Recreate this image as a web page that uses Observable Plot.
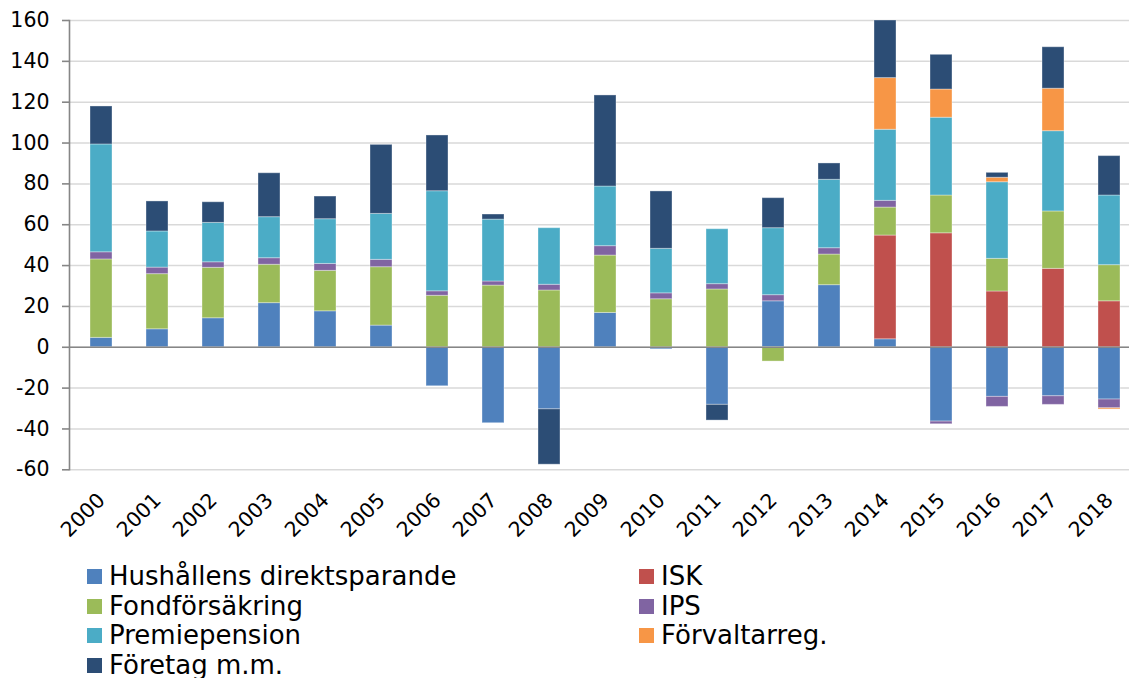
<!DOCTYPE html>
<html>
<head>
<meta charset="utf-8">
<script src="https://cdn.jsdelivr.net/npm/d3@7"></script>
<script src="https://cdn.jsdelivr.net/npm/@observablehq/plot@0.6"></script>
<style>
  body { margin: 0; background: #fff; font-family: "DejaVu Sans", Verdana, sans-serif; }
  #legend { display: grid; grid-template-columns: 552px auto; margin-left: 87px; padding-top: 4px;
            font-size: 26px; line-height: 29.5px; color: #000; }
  #legend .item { display: flex; align-items: center; white-space: nowrap; }
  #legend .sw { display: inline-block; width: 15px; height: 15px; margin-right: 7px; flex: none; }
</style>
</head>
<body>
<div id="chart"></div>
<div id="legend"></div>
<script>
const years = ["2000","2001","2002","2003","2004","2005","2006","2007","2008","2009",
               "2010","2011","2012","2013","2014","2015","2016","2017","2018"];
const seriesNames = ["Hushållens direktsparande","ISK","Fondförsäkring","IPS","Premiepension","Förvaltarreg.","Företag m.m."];
const seriesColors = ["#4F81BD","#C0504D","#9BBB59","#8064A2","#4BACC6","#F79646","#2C4D75"];

const hushall   = [4.6, 8.8, 14.2, 21.6, 17.6, 10.6, -19.1, -37.2, -30.4, 16.8, -1.0, -28.2, 22.5, 30.4, 3.9, -36.4, -24.3, -24.0, -25.6];
const isk       = [0, 0, 0, 0, 0, 0, 0, 0, 0, 0, 0, 0, 0, 0, 50.8, 55.8, 27.3, 38.4, 22.5];
const fond      = [38.4, 27.0, 24.7, 18.8, 19.8, 28.6, 25.2, 30.2, 27.8, 28.1, 23.5, 28.3, -7.0, 15.0, 13.7, 18.5, 16.0, 28.1, 17.7];
const ips       = [3.5, 3.2, 2.7, 3.2, 3.4, 3.6, 2.2, 2.0, 2.8, 4.6, 2.9, 2.6, 3.0, 3.1, 3.3, -1.3, -4.9, -4.2, -4.3];
const premie    = [52.8, 17.7, 19.3, 20.1, 21.9, 22.5, 49.0, 30.3, 27.7, 29.2, 21.8, 26.9, 32.8, 33.5, 34.8, 38.1, 37.5, 39.3, 34.1];
const forvalt   = [0, 0, 0, 0, 0, 0, 0, 0, 0, 0, 0, 0, 0, 0, 25.3, 13.8, 2.2, 20.8, -0.6];
const foretag   = [18.6, 14.7, 10.1, 21.5, 11.1, 33.8, 27.3, 2.5, -27.1, 44.6, 28.1, -7.7, 14.7, 8.0, 28.2, 17.0, 2.4, 20.3, 19.3];

const yTicks = [-60, -40, -20, 0, 20, 40, 60, 80, 100, 120, 140, 160];

const seriesValues = [hushall, isk, fond, ips, premie, forvalt, foretag];
const rows = [];
seriesNames.forEach((name, si) => {
  years.forEach((yr, i) => {
    const v = seriesValues[si][i];
    if (v !== 0) rows.push({year: yr, series: name, value: v});
  });
});

const chart = Plot.plot({
  width: 1129,
  height: 558,
  marginLeft: 69,
  marginRight: 0,
  marginTop: 20,
  marginBottom: 88.7,
  style: {fontFamily: "DejaVu Sans, Verdana, sans-serif", fontSize: "20.5px", color: "#000", background: "#fff"},
  x: {domain: years, range: [69.5, 1140], paddingInner: 0.6, paddingOuter: 0.3, label: null},
  y: {domain: [-60, 160], range: [469.3, 20], label: null},
  color: {domain: seriesNames, range: seriesColors},
  marks: [
    Plot.gridY(yTicks, {stroke: "#d9d9d9", strokeOpacity: 1, strokeWidth: 1.5}),
    Plot.barY(rows, Plot.stackY({order: seriesNames}, {
      x: "year", y: "value", z: "series", fill: "series",
      stroke: "#ffffff", strokeOpacity: 0.35, strokeWidth: 1
    })),
    Plot.ruleY([0], {stroke: "#868686", strokeWidth: 1.6}),
    Plot.frame({anchor: "left", stroke: "#868686", strokeWidth: 1.6}),
    Plot.axisY({ticks: yTicks, tickSize: 7, tickPadding: 13, stroke: "#868686", strokeWidth: 1.6, fill: "#000", tickFormat: d => d, label: null}),
    Plot.axisX({anchor: "bottom", tickSize: 0, tickPadding: 27, tickRotate: -45, fill: "#000", label: null})
  ]
});
document.getElementById("chart").appendChild(chart);

const legend = document.getElementById("legend");
seriesNames.forEach((name, i) => {
  const item = document.createElement("div");
  item.className = "item";
  const sw = document.createElement("span");
  sw.className = "sw";
  sw.style.background = seriesColors[i];
  item.appendChild(sw);
  item.appendChild(document.createTextNode(name));
  legend.appendChild(item);
});
</script>
</body>
</html>
